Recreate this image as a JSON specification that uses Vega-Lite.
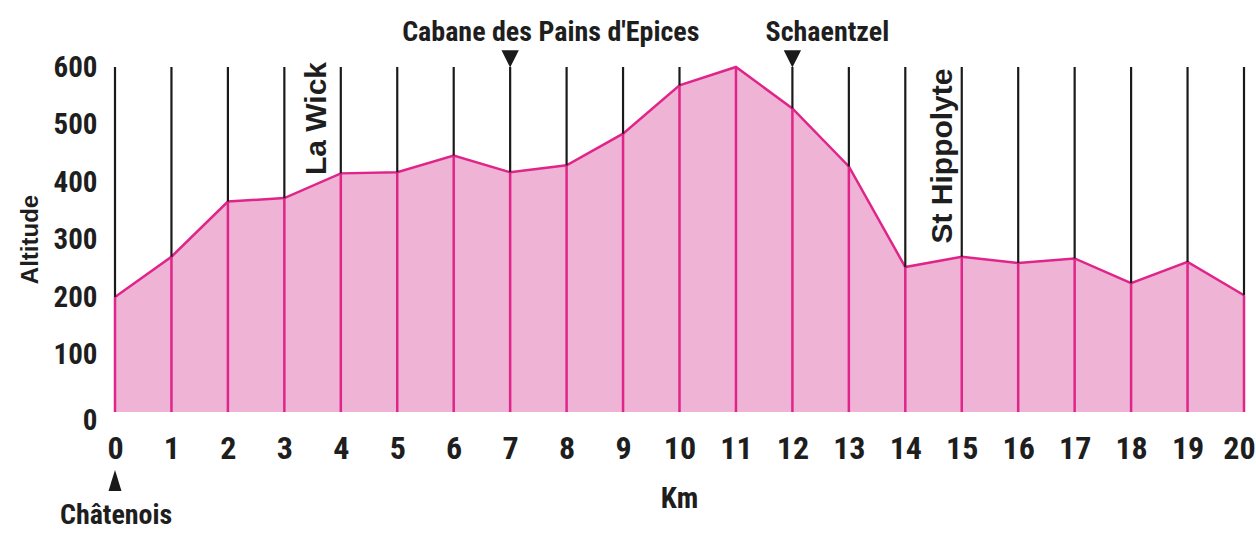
{
  "$schema": "https://vega.github.io/schema/vega-lite/v6.json",
  "autosize": {"type": "none"},
  "width": 1129,
  "height": 345,
  "padding": {"left": 115, "top": 67, "right": 12, "bottom": 124},
  "background": "white",
  "config": {"view": {"stroke": null}},
  "datasets": {
    "profile": [
      {"km": 0, "alt": 200}, {"km": 1, "alt": 270}, {"km": 2, "alt": 366}, {"km": 3, "alt": 372},
      {"km": 4, "alt": 415}, {"km": 5, "alt": 417}, {"km": 6, "alt": 446}, {"km": 7, "alt": 417},
      {"km": 8, "alt": 429}, {"km": 9, "alt": 484}, {"km": 10, "alt": 568}, {"km": 11, "alt": 600},
      {"km": 12, "alt": 528}, {"km": 13, "alt": 427}, {"km": 14, "alt": 252}, {"km": 15, "alt": 270},
      {"km": 16, "alt": 259}, {"km": 17, "alt": 267}, {"km": 18, "alt": 224}, {"km": 19, "alt": 261},
      {"km": 20, "alt": 203}
    ],
    "toplabels": [
      {"km": 7.72, "alt": 659, "label": "Cabane des Pains d'Epices"},
      {"km": 12.62, "alt": 659, "label": "Schaentzel"},
      {"km": 0.02, "alt": -181, "label": "Châtenois"}
    ],
    "downmarks": [{"km": 7, "alt": 614}, {"km": 12, "alt": 614}],
    "upmarks": [{"km": 0, "alt": -119}],
    "vlabels": [
      {"km": 3.585, "alt": 412, "label": "La Wick"},
      {"km": 14.66, "alt": 293, "label": "St Hippolyte"}
    ]
  },
  "layer": [
    {
      "data": {"name": "profile"},
      "mark": {"type": "area", "color": "#e893c3", "line": {"color": "#e0258a", "strokeWidth": 2.5}},
      "encoding": {
        "x": {
          "field": "km", "type": "quantitative",
          "scale": {"domain": [0, 20], "nice": false},
          "axis": {
            "values": [0,1,2,3,4,5,6,7,8,9,10,11,12,13,14,15,16,17,18,19,20],
            "format": "d", "labelOverlap": false,
            "domain": false, "ticks": false, "grid": false,
            "labelFont": "Roboto Condensed",
            "labelFontWeight": "bold", "labelFontSize": 32, "labelColor": "#1e1e1e",
            "labelPadding": 21, "labelFlush": false,
            "labelOffset": {"condition": {"test": "datum.value === 20", "value": -5}, "value": 0},
            "title": "Km",
            "titleFont": "Roboto Condensed",
            "titleFontWeight": "bold", "titleFontSize": 29, "titleColor": "#1e1e1e",
            "titleX": 564, "titleY": 86, "titleBaseline": "middle", "titleAlign": "center"
          }
        },
        "y": {
          "field": "alt", "type": "quantitative",
          "scale": {"domain": [0, 600], "nice": false, "zero": true},
          "axis": {
            "values": [0, 100, 200, 300, 400, 500, 600],
            "domain": false, "ticks": false, "grid": false,
            "labelFont": "Roboto Condensed",
            "labelFontWeight": "bold", "labelFontSize": 29, "labelColor": "#1e1e1e",
            "labelPadding": 18, "labelFlush": false,
            "labelOffset": {"condition": {"test": "datum.value === 0", "value": 8}, "value": 0},
            "title": "Altitude",
            "titleFont": "Liberation Sans",
            "titleFontWeight": "bold", "titleFontSize": 24, "titleColor": "#1e1e1e",
            "titleX": -85, "titleY": 172, "titleAngle": 270, "titleBaseline": "middle", "titleAlign": "center"
          }
        }
      }
    },
    {
      "data": {"name": "profile"},
      "mark": {"type": "rule", "color": "#e0258a", "strokeWidth": 2.5},
      "encoding": {
        "x": {"field": "km", "type": "quantitative"},
        "y": {"field": "alt", "type": "quantitative"},
        "y2": {"datum": 0}
      }
    },
    {
      "data": {"name": "profile"},
      "mark": {"type": "rule", "color": "#1a1a1a", "strokeWidth": 2.2},
      "encoding": {
        "x": {"field": "km", "type": "quantitative"},
        "y": {"field": "alt", "type": "quantitative"},
        "y2": {"datum": 600}
      }
    },
    {
      "data": {"name": "downmarks"},
      "mark": {"type": "point", "shape": "M-1,-1L1,-1L0,1Z", "filled": true, "color": "#1a1a1a", "opacity": 1, "size": 300},
      "encoding": {
        "x": {"field": "km", "type": "quantitative"},
        "y": {"field": "alt", "type": "quantitative"}
      }
    },
    {
      "data": {"name": "upmarks"},
      "mark": {"type": "point", "shape": "M0,-1L0.62,1L-0.62,1Z", "filled": true, "color": "#1a1a1a", "opacity": 1, "size": 441},
      "encoding": {
        "x": {"field": "km", "type": "quantitative"},
        "y": {"field": "alt", "type": "quantitative"}
      }
    },
    {
      "data": {"name": "toplabels"},
      "mark": {"type": "text", "font": "Roboto Condensed", "fontWeight": "bold", "fontSize": 28, "color": "#1e1e1e", "align": "center", "baseline": "middle"},
      "encoding": {
        "x": {"field": "km", "type": "quantitative"},
        "y": {"field": "alt", "type": "quantitative"},
        "text": {"field": "label"}
      }
    },
    {
      "data": {"name": "vlabels"},
      "mark": {"type": "text", "font": "Liberation Sans", "fontWeight": "bold", "fontSize": 30, "color": "#1e1e1e", "align": "left", "baseline": "middle", "angle": 270},
      "encoding": {
        "x": {"field": "km", "type": "quantitative"},
        "y": {"field": "alt", "type": "quantitative"},
        "text": {"field": "label"}
      }
    }
  ]
}
